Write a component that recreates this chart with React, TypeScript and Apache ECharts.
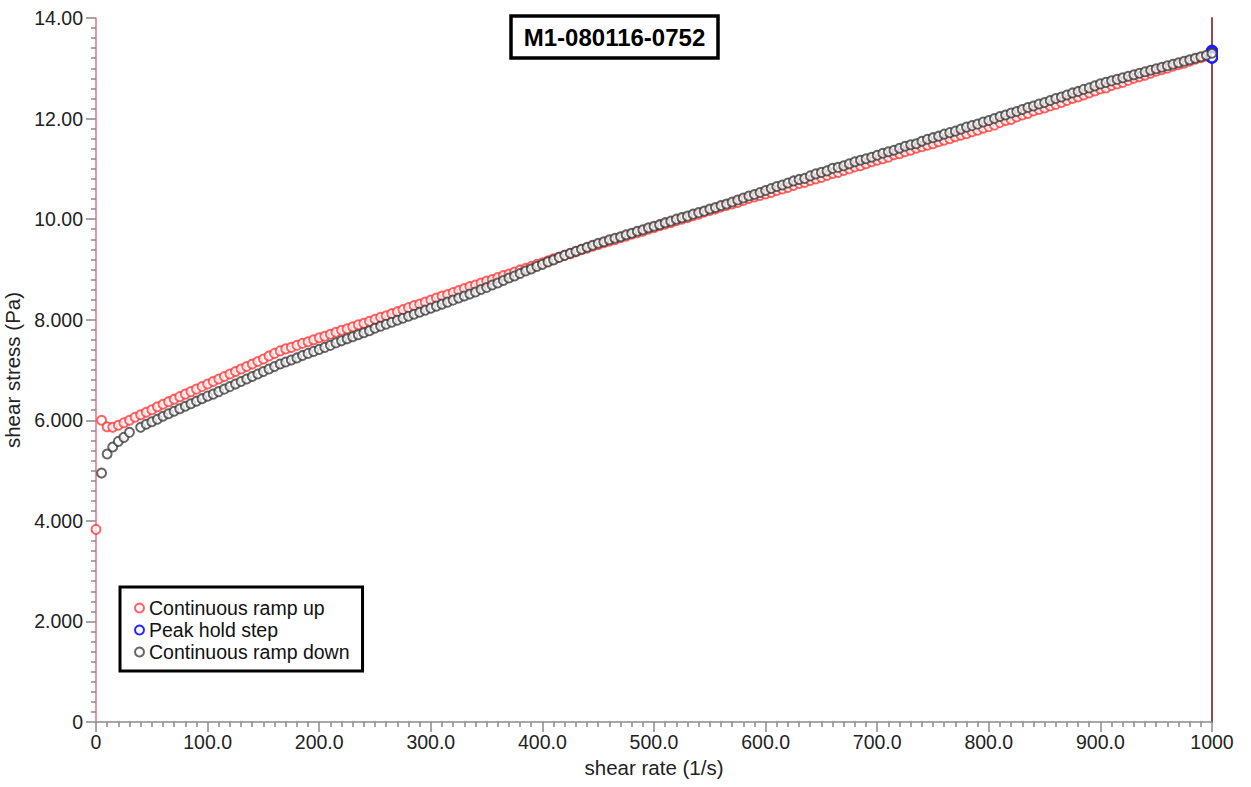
import React, { useEffect, useRef } from "react";
import * as echarts from "echarts";

// shear rate grid step (1/s) of the continuous ramps
const RATE_STEP = 5;

// Continuous ramp up: shear stress (Pa) at 0, 5, 10, ... 1000 1/s
const rampUpStress: (number | null)[] = [
  3.83, 6.0, 5.87, 5.86, 5.9, 5.95, 6.0, 6.06, 6.11, 6.16,
  6.21, 6.27, 6.32, 6.37, 6.42, 6.47, 6.52, 6.57, 6.62, 6.67,
  6.72, 6.77, 6.82, 6.87, 6.92, 6.97, 7.02, 7.07, 7.12, 7.17,
  7.22, 7.28, 7.33, 7.38, 7.42, 7.45, 7.49, 7.53, 7.56, 7.6,
  7.64, 7.67, 7.71, 7.75, 7.79, 7.82, 7.86, 7.9, 7.93, 7.97,
  8.01, 8.05, 8.08, 8.12, 8.16, 8.2, 8.24, 8.28, 8.31, 8.35,
  8.39, 8.43, 8.47, 8.5, 8.54, 8.58, 8.62, 8.66, 8.69, 8.73,
  8.77, 8.8, 8.84, 8.88, 8.91, 8.95, 8.99, 9.02, 9.06, 9.1,
  9.13, 9.17, 9.21, 9.24, 9.28, 9.31, 9.35, 9.39, 9.42, 9.46,
  9.49, 9.53, 9.56, 9.59, 9.63, 9.66, 9.7, 9.73, 9.76, 9.8,
  9.83, 9.87, 9.9, 9.93, 9.97, 10.0, 10.03, 10.07, 10.1, 10.14,
  10.17, 10.2, 10.24, 10.27, 10.3, 10.33, 10.37, 10.41, 10.44, 10.47,
  10.5, 10.53, 10.57, 10.6, 10.63, 10.67, 10.71, 10.73, 10.77, 10.8,
  10.83, 10.87, 10.91, 10.93, 10.97, 11.0, 11.04, 11.06, 11.1, 11.14,
  11.17, 11.2, 11.23, 11.28, 11.3, 11.34, 11.37, 11.41, 11.44, 11.47,
  11.5, 11.54, 11.57, 11.6, 11.64, 11.67, 11.7, 11.74, 11.77, 11.81,
  11.84, 11.87, 11.92, 11.96, 11.98, 12.03, 12.07, 12.1, 12.15, 12.18,
  12.21, 12.25, 12.28, 12.32, 12.36, 12.4, 12.43, 12.47, 12.51, 12.55,
  12.59, 12.61, 12.66, 12.69, 12.72, 12.76, 12.8, 12.83, 12.86, 12.9,
  12.94, 12.97, 13.0, 13.04, 13.07, 13.1, 13.14, 13.18, 13.21, 13.24,
  13.28,
];

// Peak hold step: shear stress (Pa) held at 1000 1/s
const peakRate = 1000;
const peakHoldStress: number[] = [
  13.22, 13.24, 13.26, 13.28, 13.3, 13.32, 13.34, 13.33, 13.31, 13.28,
  13.25, 13.23, 13.21, 13.24, 13.27, 13.29, 13.31, 13.35, 13.33, 13.3,
  13.26, 13.23, 13.25, 13.28, 13.32, 13.34, 13.31, 13.27, 13.24, 13.22,
];

// Continuous ramp down: shear stress (Pa) at 0, 5, 10, ... 1000 1/s
const rampDownStress: (number | null)[] = [
  null, 4.95, 5.33, 5.47, 5.58, 5.66, 5.76, null, 5.86, 5.92,
  5.97, 6.02, 6.08, 6.13, 6.18, 6.23, 6.28, 6.33, 6.38, 6.43,
  6.48, 6.52, 6.57, 6.62, 6.67, 6.72, 6.77, 6.82, 6.87, 6.92,
  6.97, 7.02, 7.07, 7.12, 7.16, 7.2, 7.24, 7.29, 7.33, 7.37,
  7.41, 7.45, 7.49, 7.54, 7.58, 7.62, 7.66, 7.7, 7.74, 7.78,
  7.83, 7.87, 7.91, 7.95, 7.99, 8.03, 8.07, 8.11, 8.15, 8.19,
  8.23, 8.27, 8.31, 8.35, 8.39, 8.43, 8.47, 8.51, 8.55, 8.6,
  8.64, 8.69, 8.73, 8.78, 8.83, 8.87, 8.92, 8.97, 9.01, 9.06,
  9.1, 9.15, 9.19, 9.24, 9.28, 9.32, 9.36, 9.4, 9.44, 9.48,
  9.52, 9.55, 9.59, 9.62, 9.65, 9.69, 9.72, 9.76, 9.79, 9.83,
  9.86, 9.89, 9.93, 9.96, 10.0, 10.03, 10.06, 10.1, 10.13, 10.16,
  10.2, 10.23, 10.27, 10.3, 10.34, 10.38, 10.42, 10.46, 10.49, 10.53,
  10.57, 10.61, 10.65, 10.68, 10.72, 10.76, 10.79, 10.81, 10.86, 10.9,
  10.93, 10.96, 11.01, 11.03, 11.06, 11.1, 11.14, 11.17, 11.2, 11.23,
  11.27, 11.31, 11.34, 11.37, 11.41, 11.45, 11.48, 11.5, 11.55, 11.59,
  11.62, 11.65, 11.69, 11.72, 11.75, 11.79, 11.83, 11.86, 11.89, 11.93,
  11.96, 12.0, 12.04, 12.07, 12.11, 12.14, 12.18, 12.22, 12.25, 12.29,
  12.32, 12.36, 12.4, 12.43, 12.47, 12.51, 12.54, 12.58, 12.61, 12.65,
  12.69, 12.72, 12.75, 12.78, 12.81, 12.84, 12.87, 12.9, 12.93, 12.96,
  12.99, 13.02, 13.05, 13.08, 13.11, 13.14, 13.17, 13.2, 13.23, 13.26,
  13.3,
];

const seriesNames = ["Continuous ramp up", "Peak hold step", "Continuous ramp down"];
const chartTitle = "M1-080116-0752";
const xAxisName = "shear rate (1/s)";
const yAxisName = "shear stress (Pa)";

const toPairs = (vals: (number | null)[]) =>
  vals.map((v, i) => [i * RATE_STEP, v] as [number, number | null]).filter((p) => p[1] !== null);

const FONT = "'Liberation Sans', Arial, sans-serif";

export default function App() {
  const ref = useRef<HTMLDivElement>(null);
  useEffect(() => {
    if (!ref.current) return;
    const chart = echarts.init(ref.current, undefined, { renderer: "svg" });
    const labelStyle = { color: "#222", fontSize: 19.5, fontFamily: FONT };
    const nameStyle = { color: "#222", fontSize: 20.5, fontFamily: FONT };
    chart.setOption({
      animation: false,
      backgroundColor: "#fff",
      grid: {
        left: 96,
        right: 39,
        top: 18,
        bottom: 65,
        containLabel: false,
        outerBoundsMode: "none",
      },
      legend: {
        data: seriesNames,
        orient: "vertical",
        left: 120,
        top: 587,
        padding: [11, 13, 9, 14],
        itemGap: 2,
        itemWidth: 9,
        itemHeight: 9,
        icon: "emptyCircle",
        borderColor: "#000",
        borderWidth: 3,
        backgroundColor: "#fff",
        textStyle: { color: "#111", fontSize: 19.5, fontFamily: FONT },
      },
      graphic: [
        {
          type: "rect",
          shape: { x: 511, y: 16, width: 207, height: 42 },
          style: { fill: "#fff", stroke: "#000", lineWidth: 3.5 },
          z: 10,
        },
        {
          type: "text",
          x: 614.5,
          y: 37.5,
          style: {
            text: chartTitle,
            fill: "#000",
            font: `bold 24px ${FONT}`,
            align: "center",
            verticalAlign: "middle",
          },
          z: 11,
        },
      ],
      xAxis: {
        type: "value",
        min: 0,
        max: 1000,
        interval: 100,
        name: xAxisName,
        nameLocation: "middle",
        nameGap: 34,
        nameTextStyle: { ...nameStyle },
        splitLine: { show: false },
        axisLine: { show: true, onZero: false, lineStyle: { color: "#8a8a8a", width: 1.5 } },
        axisTick: { show: true, inside: false, length: 10, lineStyle: { color: "#8a8a8a", width: 1.5 } },
        minorTick: { show: true, splitNumber: 10, length: 5, lineStyle: { color: "#8a8a8a", width: 1.5 } },
        axisLabel: {
          ...labelStyle,
          margin: 10,
          formatter: (v: number) => (v === 0 ? "0" : v === 1000 ? "1000" : v.toFixed(1)),
        },
      },
      yAxis: [
        {
          type: "value",
          min: 0,
          max: 14,
          interval: 2,
          name: yAxisName,
          nameLocation: "middle",
          nameGap: 63,
          nameRotate: 90,
          nameTextStyle: { ...nameStyle },
          splitLine: { show: false },
          axisLine: { show: true, onZero: false, lineStyle: { color: "#e8708a", width: 1.5 } },
          axisTick: { show: true, inside: false, length: 10, lineStyle: { color: "#8a8a8a", width: 1.5 } },
          minorTick: { show: true, splitNumber: 10, length: 5, lineStyle: { color: "#8a8a8a", width: 1.5 } },
          axisLabel: {
            ...labelStyle,
            margin: 13,
            formatter: (v: number) => (v === 0 ? "0" : v < 10 ? v.toFixed(3) : v.toFixed(2)),
          },
        },
        {
          type: "value",
          min: 0,
          max: 14,
          interval: 2,
          position: "right",
          splitLine: { show: false },
          axisLine: { show: true, onZero: false, lineStyle: { color: "#a0464b", width: 2 } },
          axisTick: { show: false },
          axisLabel: { show: false },
        },
      ],
      series: [
        {
          name: seriesNames[0],
          type: "scatter",
          symbol: "emptyCircle",
          symbolSize: 9,
          data: toPairs(rampUpStress),
          itemStyle: { color: "#ff3030", borderColor: "#ff3030", borderWidth: 1, opacity: 0.75 },
          z: 2,
        },
        {
          name: seriesNames[1],
          type: "scatter",
          symbol: "emptyCircle",
          symbolSize: 10,
          data: peakHoldStress.map((v) => [peakRate, v]),
          itemStyle: { color: "#1a1aff", borderColor: "#1a1aff", borderWidth: 2.5, opacity: 0.95 },
          z: 3,
        },
        {
          name: seriesNames[2],
          type: "scatter",
          symbol: "emptyCircle",
          symbolSize: 9,
          data: toPairs(rampDownStress),
          itemStyle: { color: "#333", borderColor: "#333", borderWidth: 1, opacity: 0.75 },
          z: 4,
        },
      ],
    });
    return () => chart.dispose();
  }, []);
  return (
    <div
      ref={ref}
      style={{ position: "fixed", left: 0, top: 0, width: 1251, height: 787, background: "#fff" }}
    />
  );
}
